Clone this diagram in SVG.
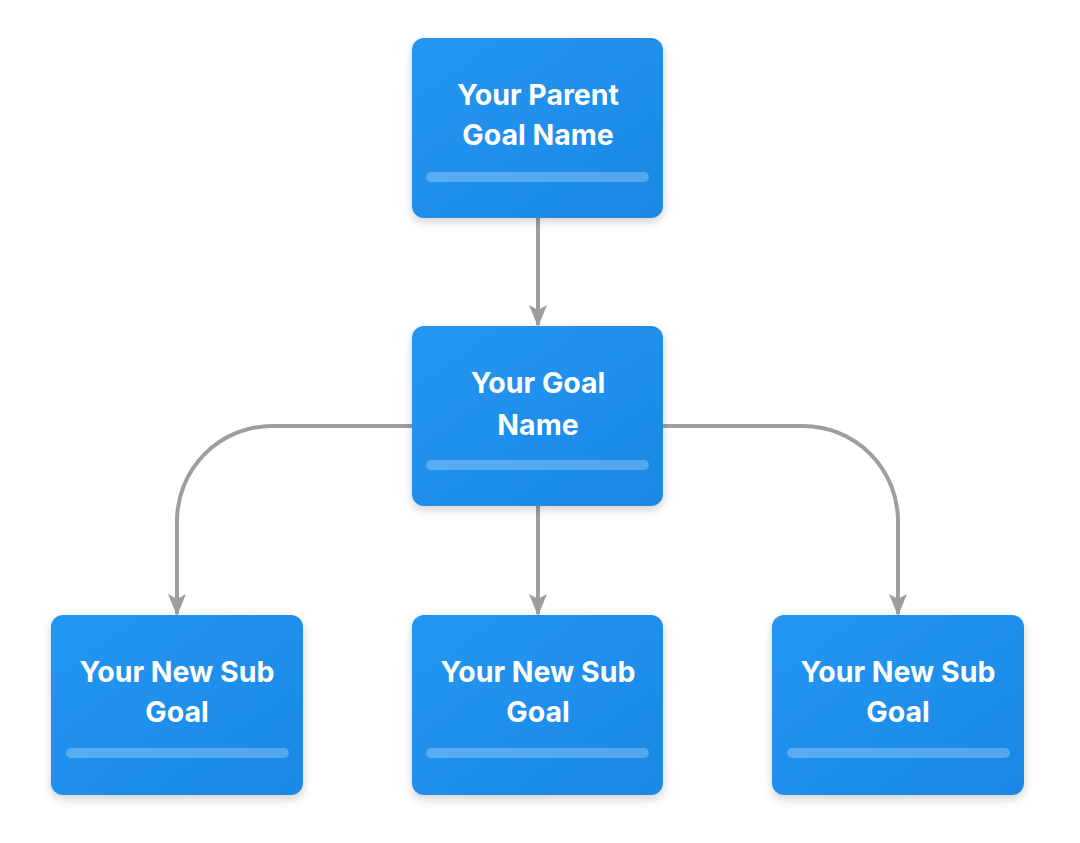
<svg xmlns="http://www.w3.org/2000/svg" width="1080" height="843" viewBox="0 0 1080 843">
<style>
.box{fill:url(#g);filter:url(#sh)}
.bar{fill:#ffffff;fill-opacity:0.25}
.t{font-family:Inter,"Open Sans","Liberation Sans",sans-serif;font-weight:700;font-size:28.5px;fill:#ffffff;text-anchor:middle}
.c{fill:none;stroke:#9e9e9e;stroke-width:4;marker-end:url(#ah)}
</style>
<defs>
<linearGradient id="g" x1="0" y1="0" x2="1" y2="1">
<stop offset="0" stop-color="#2196f3"/>
<stop offset="1" stop-color="#1e88e5"/>
</linearGradient>
<filter id="sh" x="-20%" y="-20%" width="140%" height="150%">
<feDropShadow dx="0" dy="4" stdDeviation="5" flood-color="#000000" flood-opacity="0.18"/>
</filter>
<marker id="ah" markerUnits="userSpaceOnUse" markerWidth="22" markerHeight="22" refX="20" refY="9" orient="auto" viewBox="0 0 22 18">
<path d="M0,0 L22,9 L0,18 L5,9 Z" fill="#9e9e9e"/>
</marker>
</defs>
<g id="connectors">
<path class="c" d="M538,218 L538,325"/>
<path class="c" d="M538,506 L538,614"/>
<path class="c" d="M412,426 L272,426 A95,95 0 0 0 177,521 L177,614"/>
<path class="c" d="M663,426 L803,426 A95,95 0 0 1 898,521 L898,614"/>
</g>
<g id="parent">
<rect class="box" x="412" y="38" width="251" height="180" rx="12"/>
<rect class="bar" x="426" y="172" width="223" height="10" rx="5"/>
<text class="t" x="538" y="105">Your Parent</text>
<text class="t" x="538" y="145">Goal Name</text>
</g>
<g id="goal">
<rect class="box" x="412" y="326" width="251" height="180" rx="12"/>
<rect class="bar" x="426" y="460" width="223" height="10" rx="5"/>
<text class="t" x="538" y="393">Your Goal</text>
<text class="t" x="538" y="435">Name</text>
</g>
<g id="sub1">
<rect class="box" x="51" y="615" width="252" height="180" rx="12"/>
<rect class="bar" x="66" y="748" width="223" height="10" rx="5"/>
<text class="t" x="177" y="682">Your New Sub</text>
<text class="t" x="177" y="722">Goal</text>
</g>
<g id="sub2">
<rect class="box" x="412" y="615" width="251" height="180" rx="12"/>
<rect class="bar" x="426" y="748" width="223" height="10" rx="5"/>
<text class="t" x="538" y="682">Your New Sub</text>
<text class="t" x="538" y="722">Goal</text>
</g>
<g id="sub3">
<rect class="box" x="772" y="615" width="252" height="180" rx="12"/>
<rect class="bar" x="787" y="748" width="223" height="10" rx="5"/>
<text class="t" x="898" y="682">Your New Sub</text>
<text class="t" x="898" y="722">Goal</text>
</g>
</svg>
